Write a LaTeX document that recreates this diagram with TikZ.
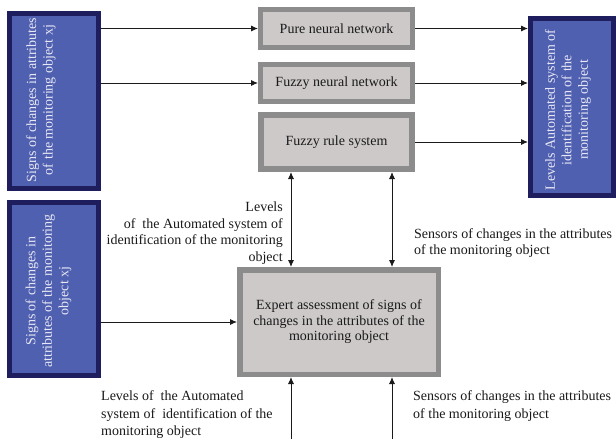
\documentclass[tikz,border=0pt]{standalone}
\usepackage{fontspec}
\setmainfont{Liberation Serif}
\usetikzlibrary{arrows.meta}
\definecolor{bluefill}{HTML}{5060B0}
\definecolor{blueedge}{HTML}{1E1E5E}
\definecolor{bluetext}{HTML}{E8E8F4}
\definecolor{grayfill}{HTML}{CDC9C9}
\definecolor{grayedge}{HTML}{8C8C8C}
\definecolor{ink}{HTML}{1A1A1A}
\tikzset{
  bluebox/.style={draw=blueedge, fill=bluefill, line width=5pt, inner sep=0pt},
  bluetxt/.style={text=bluetext, rotate=90, align=center, inner sep=0pt},
  graybox/.style={draw=grayedge, fill=grayfill, line width=5pt, inner sep=0pt, align=center, text=ink},
  lbl/.style={text=ink, inner sep=0pt},
  tip/.tip={Latex[length=7pt,width=6pt]},
  link/.style={line width=0.9pt, draw=ink, -tip},
  dlink/.style={line width=0.9pt, draw=ink, tip-tip},
}
\begin{document}
\begin{tikzpicture}[x=1pt, y=-1pt, font=\fontsize{14}{16.5}\selectfont]
  \useasboundingbox[fill=white] (0,0) rectangle (616,439);

  % blue side panels
  \node[bluebox, minimum width=89pt, minimum height=175pt] (L1) at (54,101) {};
  \node[bluetxt] (L1t) at (41,100) {Signs of changes in attributes\\of the monitoring object xj};
  \node[bluebox, minimum width=89pt, minimum height=173pt] (L2) at (54,289) {};
  \node[bluetxt] (L2t) at (48.5,291) {Signs of changes in\\attributes of the monitoring\\object xj};
  \node[bluebox, minimum width=83pt, minimum height=177pt] (R) at (572,107) {};
  \node[bluetxt] (Rt) at (568,110) {Levels Automated system of\\identification of the\\monitoring object};

  % grey processing blocks
  \node[graybox, minimum width=152pt, minimum height=38pt] (P) at (336.5,28.5) {Pure neural network};
  \node[graybox, minimum width=152pt, minimum height=37pt] (FN) at (336.5,83) {Fuzzy neural network};
  \node[graybox, line width=6pt, minimum width=151pt, minimum height=54pt] (FR) at (336.5,142) {Fuzzy rule system};
  \node[graybox, line width=5.5pt, minimum width=198.5pt, minimum height=104.5pt,
        font=\fontsize{14}{15.5}\selectfont] (E) at (339,322)
        {Expert assessment of signs of\\changes in the attributes of the\\monitoring object};

  % connectors
  \draw[link] (L1.east |- P.west) -- (P.west);
  \draw[link] (L1.east |- FN.west) -- (FN.west);
  \draw[link] (P.east) -- (P.east -| R.west);
  \draw[link] (FN.east) -- (FN.east -| R.west);
  \draw[link] (FR.east) -- (FR.east -| R.west);
  \draw[link] (L2.east |- E.west) -- (E.west);

  \coordinate (cA) at (291,0);
  \coordinate (cB) at (392,0);
  \draw[dlink] (FR.south -| cA) -- (E.north -| cA);
  \draw[dlink] (FR.south -| cB) -- (E.north -| cB);

  \coordinate (bA) at (291,439);
  \coordinate (bB) at (392,439);
  \draw[link] (bA) -- (E.south -| bA);
  \draw[link] (bB) -- (E.south -| bB);

  % free labels
  \node[lbl, anchor=east, align=right] (lvA) at (283,233)
    {Levels\\of~ the Automated system of\\identification of the monitoring\\object};
  \node[lbl, anchor=west, align=left] (snA) at (414,243)
    {Sensors of changes in the attributes\\of the monitoring object};
  \node[lbl, anchor=west, align=left, font=\fontsize{14}{17.5}\selectfont] (lvB) at (101,415)
    {Levels of~ the Automated\\system of~ identification of the\\monitoring object};
  \node[lbl, anchor=west, align=left, font=\fontsize{14}{17.5}\selectfont] (snB) at (413,406)
    {Sensors of changes in the attributes\\of the monitoring object};
\end{tikzpicture}
\end{document}
